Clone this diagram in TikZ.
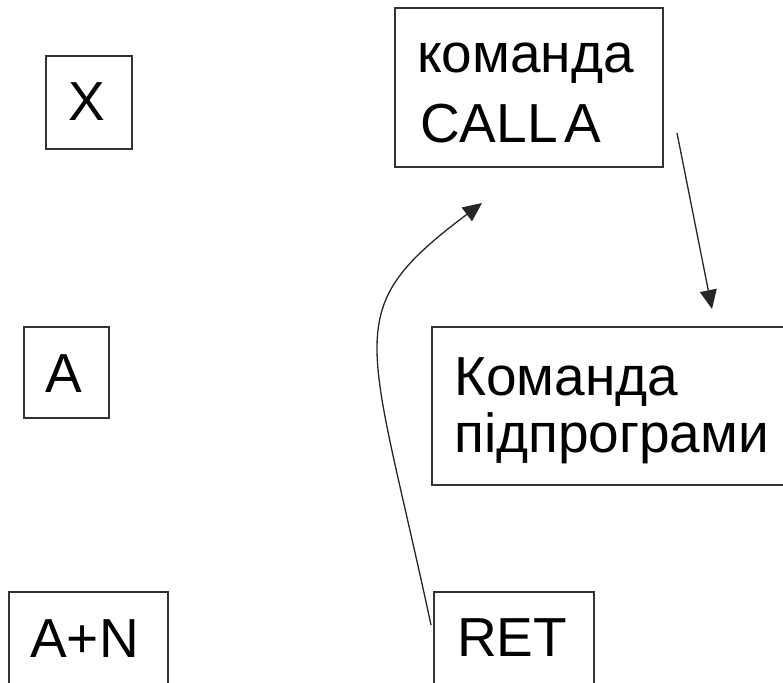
\documentclass[tikz,border=0pt]{standalone}
\usepackage{fontspec}
\setmainfont{Liberation Sans}
\usetikzlibrary{arrows.meta}
\tikzset{
  box/.style={draw=black!80, line width=1.3pt, rectangle, inner sep=0pt},
  txt/.style={inner sep=0pt, font=\fontsize{55}{66}\selectfont},
  conn/.style={draw=black!85, line width=1.3pt, -{Triangle[length=19pt,width=17pt]}}
}
\begin{document}
\begin{tikzpicture}[x=1pt,y=-1pt]
\useasboundingbox (0,0) rectangle (783,682);
\clip (0,0) rectangle (783,682);
% boxes
\node[box, minimum width=86pt, minimum height=93pt] (bX) at (89,102.5) {};
\node[box, minimum width=85pt, minimum height=91pt] (bA) at (66.5,372.5) {};
\node[box, minimum width=159pt, minimum height=128pt] (bAN) at (88.5,656) {};
\node[box, minimum width=268pt, minimum height=159pt] (bCall) at (529,87.5) {};
\node[box, minimum width=368pt, minimum height=158pt] (bSub) at (616,406) {};
\node[box, minimum width=160pt, minimum height=128pt] (bRet) at (514,656) {};
% texts
\node[txt, anchor=base] (tX) at (86.5,121) {X};
\node[txt, anchor=base] (tA) at (63.5,392) {A};
\node[txt, anchor=base] (tAN) at (84.5,657) {A+N};
\node[txt, anchor=base] (tRet) at (512,656) {RET};
\node[txt, anchor=base west] (tCall1) at (417,73) {команда};
\node[txt, anchor=base west] (tCall2) at (420,142) {CALL\hspace{0.12em}A};
\node[txt, anchor=base west] (tSub1) at (454,395) {Команда};
\node[txt, anchor=base west] (tSub2) at (454,452) {підпрограми};
% connectors
\coordinate (c1s) at (677,133);
\coordinate (c1e) at (712,309);
\coordinate (c2s) at (431,625);
\coordinate (c2e) at (482,203);
\draw[conn] (c1s) -- (c1e);
\draw[conn] (c2s) .. controls (368,331) and (338,311) .. (c2e);
\end{tikzpicture}
\end{document}
